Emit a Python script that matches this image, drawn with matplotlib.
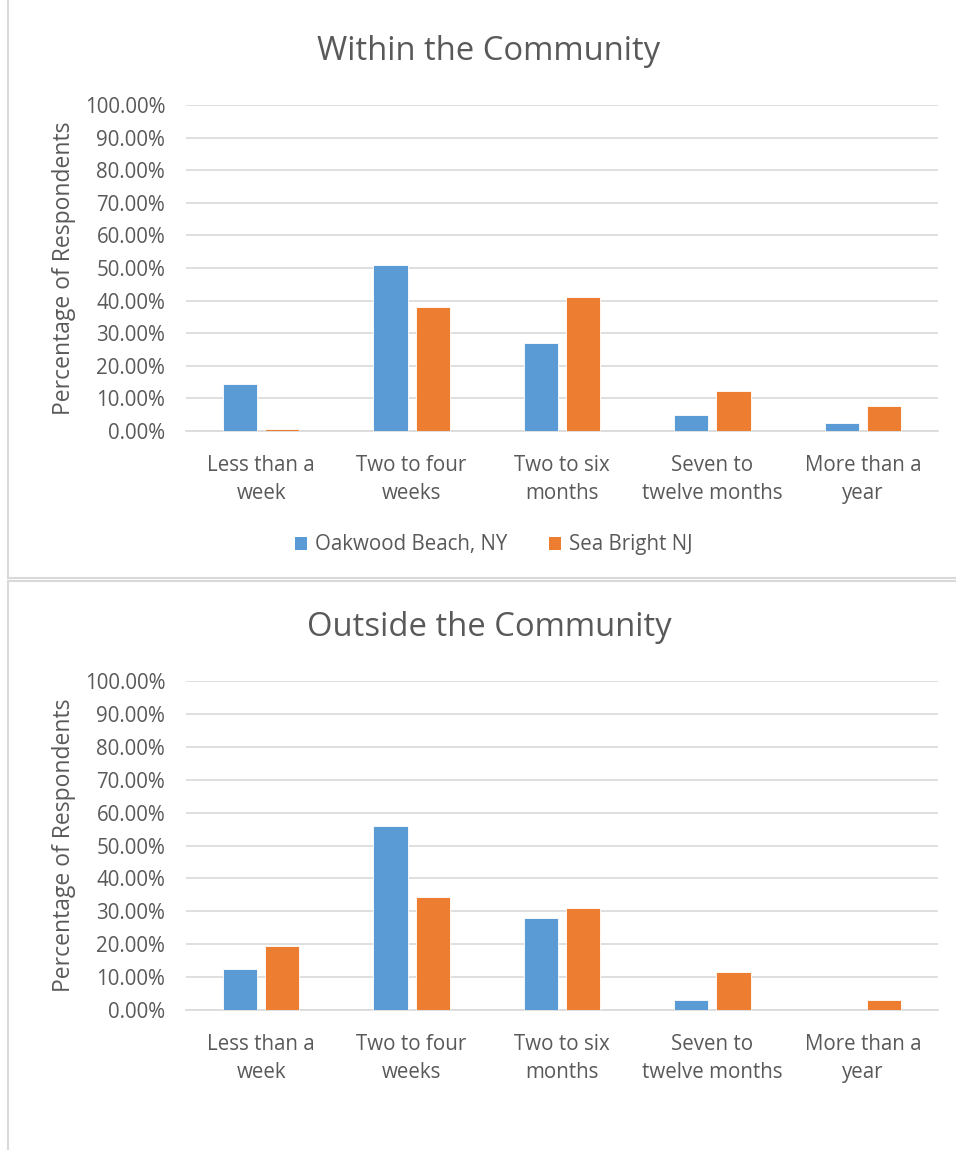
import numpy as np
import matplotlib
matplotlib.use("Agg")
import matplotlib.pyplot as plt
from matplotlib.patches import Patch
from matplotlib.lines import Line2D
from matplotlib.ticker import PercentFormatter

# data
categories = ["Less than a\nweek", "Two to four\nweeks", "Two to six\nmonths",
              "Seven to\ntwelve months", "More than a\nyear"]
series_names = ["Oakwood Beach, NY", "Sea Bright NJ"]
within_oakwood = [14.3, 51.0, 26.9, 5.0, 2.4]
within_seabright = [0.5, 37.9, 41.1, 12.2, 7.8]
outside_oakwood = [12.4, 56.0, 27.9, 3.1, 0.0]
outside_seabright = [19.4, 34.2, 31.1, 11.7, 3.1]
titles = ["Within the Community", "Outside the Community"]

BLUE = "#5B9BD5"
ORANGE = "#ED7D31"
GRID = "#D9D9D9"
TXT = "#595959"
plt.rcParams['font.family'] = ['Open Sans', 'DejaVu Sans']

W, H = 956, 1150
fig = plt.figure(figsize=(W / 100, H / 100), dpi=100)

def px_axes(x0, y0, x1, y1):
    # pixel box (top-left origin) -> figure axes
    return fig.add_axes([x0 / W, 1 - y1 / H, (x1 - x0) / W, (y1 - y0) / H])

def draw_chart(ax, blue_vals, orange_vals):
    x = np.arange(len(categories))
    bw = 0.227
    off = 0.14
    ax.bar(x - off, blue_vals, bw, color=BLUE, edgecolor="white", linewidth=0.6, zorder=3)
    ax.bar(x + off, orange_vals, bw, color=ORANGE, edgecolor="white", linewidth=0.6, zorder=3)
    ax.set_xlim(-0.5, len(categories) - 0.5)
    ax.set_ylim(0, 100)
    ax.set_yticks(np.arange(0, 101, 10))
    ax.yaxis.set_major_formatter(PercentFormatter(decimals=2))
    ax.grid(axis="y", color=GRID, linewidth=1.2, zorder=0)
    ax.set_axisbelow(True)
    for s in ["top", "right", "left"]:
        ax.spines[s].set_visible(False)
    ax.spines["bottom"].set_color(GRID)
    ax.spines["bottom"].set_linewidth(1.2)
    ax.tick_params(length=0, labelsize=14.8, labelcolor=TXT)
    ax.tick_params(axis="y", pad=15)
    ax.tick_params(axis="x", pad=17)
    ax.set_xticks(x)
    ax.set_xticklabels(categories, linespacing=1.48)
    ax.set_ylabel("Percentage of Respondents", fontsize=16.5, color=TXT, labelpad=6)

ax1 = px_axes(186, 105, 938, 431)
draw_chart(ax1, within_oakwood, within_seabright)
ax2 = px_axes(186, 681, 938, 1010)
draw_chart(ax2, outside_oakwood, outside_seabright)

fig.text(489 / W, 1 - 52 / H, titles[0], ha="center", va="center", fontsize=23.6, color=TXT)
fig.text(489 / W, 1 - 627 / H, titles[1], ha="center", va="center", fontsize=23.6, color=TXT)

handles = [Patch(facecolor=BLUE), Patch(facecolor=ORANGE)]
fig.legend(handles, series_names, loc="center", bbox_to_anchor=(494 / W, 1 - 545 / H),
           ncol=2, frameon=False, fontsize=14.8, labelcolor=TXT,
           handlelength=0.6, handleheight=0.6, handletextpad=0.4, columnspacing=2.0)

# chart-area borders
bc = "#D9D9D9"
fig.add_artist(Line2D([8 / W, 8 / W], [1, 1 - 578 / H], color=bc, lw=1.5))
fig.add_artist(Line2D([8 / W, 1], [1 - 578 / H, 1 - 578 / H], color=bc, lw=1.5))
fig.add_artist(Line2D([8 / W, 1], [1 - 581 / H, 1 - 581 / H], color=bc, lw=1.5))
fig.add_artist(Line2D([8 / W, 8 / W], [1 - 581 / H, 0], color=bc, lw=1.5))

fig.savefig("out.png", dpi=100)
